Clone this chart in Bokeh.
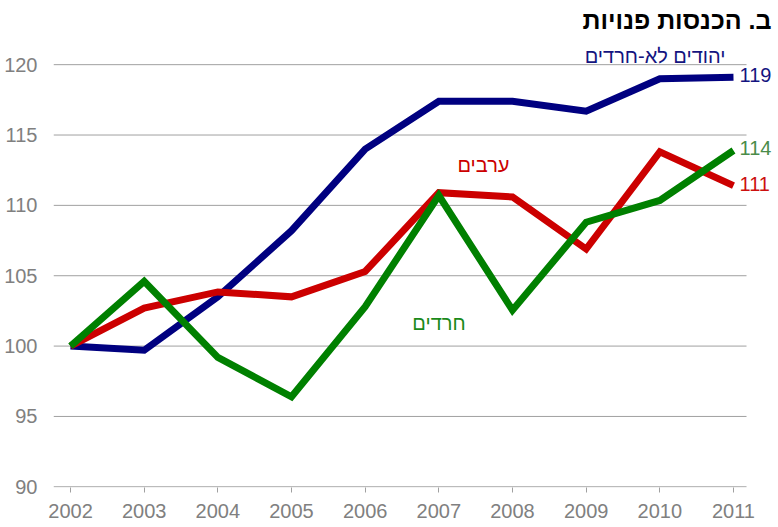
from bokeh.plotting import figure
from bokeh.models import FixedTicker, Range1d, Label
from bokeh.embed import file_html
from bokeh.resources import INLINE

years = [2002, 2003, 2004, 2005, 2006, 2007, 2008, 2009, 2010, 2011]
jews_non_haredi = [100.0, 99.7, 103.5, 108.2, 114.0, 117.4, 117.4, 116.7, 119.0, 119.1]
arabs = [100.0, 102.7, 103.85, 103.5, 105.3, 110.9, 110.6, 106.9, 113.8, 111.4]
haredi = [100.0, 104.6, 99.2, 96.4, 102.8, 110.7, 102.55, 108.8, 110.35, 113.9]
y_ticks = [90, 95, 100, 105, 110, 115, 120]

title_text = "ב. הכנסות פנויות"
name_jews = "יהודים לא-חרדים"
name_arabs = "ערבים"
name_haredi = "חרדים"

FONT = "Liberation Sans, Arial, DejaVu Sans, sans-serif"
BLUE = "#000080"
RED = "#cc0000"
GREEN = "#008000"
GRID = "#a0a0a0"

X0, X1 = 2001.769, 2011.611     # frame spans to the right edge so end labels are not clipped
GRID_END = 2011.177             # gridlines stop a little after the last year
Y0, Y1 = 89.95, 124.56

p = figure(width=778, height=527, output_backend="svg", toolbar_location=None,
           x_range=Range1d(X0, X1), y_range=Range1d(Y0, Y1),
           min_border_top=0, min_border_left=53, min_border_right=0, min_border_bottom=40)
p.outline_line_color = None
p.background_fill_color = "white"
p.border_fill_color = "white"

# axes
p.xaxis.ticker = FixedTicker(ticks=years)
p.xaxis.axis_line_color = None
p.xaxis.major_tick_line_color = GRID
p.xaxis.major_tick_out = 5
p.xaxis.major_tick_in = 0
p.xaxis.minor_tick_line_color = None
p.xaxis.major_label_standoff = 11
p.xaxis.major_label_text_font = FONT
p.xaxis.major_label_text_font_size = "20px"
p.xaxis.major_label_text_color = "#808080"

p.yaxis.ticker = FixedTicker(ticks=y_ticks)
p.yaxis.axis_line_color = None
p.yaxis.major_tick_line_color = None
p.yaxis.minor_tick_line_color = None
p.yaxis.major_tick_out = 0
p.yaxis.major_tick_in = 0
p.yaxis.major_label_standoff = 16
p.yaxis.major_label_text_font = FONT
p.yaxis.major_label_text_font_size = "20px"
p.yaxis.major_label_text_color = "#808080"

p.xgrid.grid_line_color = None
p.ygrid.grid_line_color = None

# horizontal gridlines (stop short of the right-hand labels)
p.segment(x0=[X0] * len(y_ticks), y0=y_ticks, x1=[GRID_END] * len(y_ticks), y1=y_ticks,
          line_color=GRID, line_width=1)

# lines
for vals, col in [(jews_non_haredi, BLUE), (arabs, RED), (haredi, GREEN)]:
    p.line(years, vals, line_color=col, line_width=7, line_join="miter", line_cap="butt")

# end labels
for vals, col in [(jews_non_haredi, "#141480"), (haredi, "#4a8c4a"), (arabs, "#cc1010")]:
    p.add_layout(Label(x=years[-1], y=vals[-1], text=str(round(vals[-1])), x_offset=6, y_offset=2,
                       text_align="left", text_baseline="middle", text_font=FONT,
                       text_font_size="20px", text_color=col))

# series names
p.add_layout(Label(x=2010.891, y=120.61, text=name_jews, text_align="right", text_baseline="middle",
                   text_font=FONT, text_font_size="20px", text_color="#141480"))
p.add_layout(Label(x=2007.606, y=112.85, text=name_arabs, text_align="center", text_baseline="middle",
                   text_font=FONT, text_font_size="20px", text_color=RED))
p.add_layout(Label(x=2007.002, y=101.64, text=name_haredi, text_align="center", text_baseline="middle",
                   text_font=FONT, text_font_size="20px", text_color="#1a8a1a"))

# title
p.add_layout(Label(x=2011.516, y=123.14, text=title_text, text_align="right", text_baseline="middle",
                   text_font=FONT, text_font_size="25px", text_font_style="bold", text_color="black"))

open("out.html", "w").write(file_html(p, INLINE))
